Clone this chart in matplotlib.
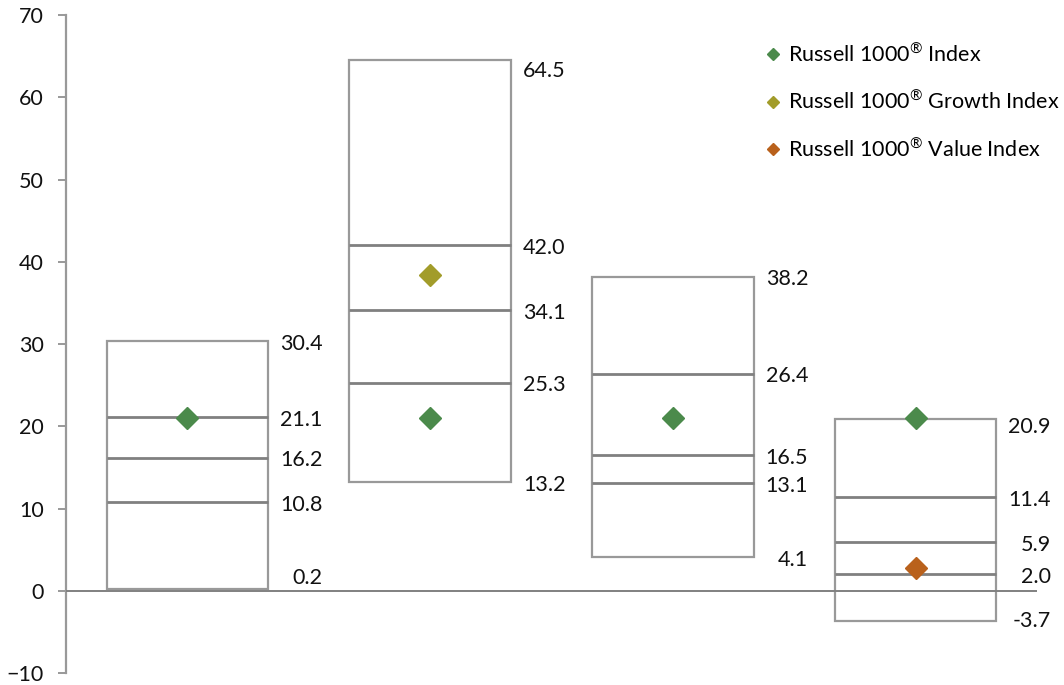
import matplotlib as mpl
import numpy as np
from matplotlib import pyplot as plt

mpl.rcParams['font.family'] = ['Lato', 'DejaVu Sans']
mpl.rcParams['font.size'] = 15.5
mpl.rcParams['mathtext.fontset'] = 'custom'
mpl.rcParams['mathtext.rm'] = 'Lato'

# Range of returns per group: low, 25th, median, 75th, high
lows = [0.2, 13.2, 4.1, -3.7]
q1 = [10.8, 25.3, 13.1, 2.0]
medians = [16.2, 34.1, 16.5, 5.9]
q3 = [21.1, 42.0, 26.4, 11.4]
highs = [30.4, 64.5, 38.2, 20.9]

# Index returns (None where the index is not shown in that group)
r1000 = [21.0, 21.0, 21.0, 21.0]
r1000_growth = [None, 38.4, None, None]
r1000_value = [None, None, None, 2.8]

reg = "$^{\\mathrm{\u00ae}}$"
series_labels = ["Russell 1000" + reg + " Index",
                 "Russell 1000" + reg + " Growth Index",
                 "Russell 1000" + reg + " Value Index"]
series_colors = ['#4b8a4b', '#a29c2a', '#b9611c']

box_color = '#999999'
line_color = '#808080'

fig = plt.figure(figsize=(10.64, 6.85), dpi=100)
ax = fig.add_axes([0.062, 0.0175, 0.9126, 0.9605])

x = np.arange(len(lows))
width = 0.665
heights = np.array(highs) - np.array(lows)
ax.bar(x, heights, bottom=lows, width=width, facecolor='white',
       edgecolor=box_color, linewidth=1.6, zorder=2)

for stat in (q1, medians, q3):
    ax.hlines(stat, x - width / 2, x + width / 2, color=line_color, linewidth=2, zorder=3)

ax.axhline(0, color=line_color, linewidth=1.4, zorder=4)

# value labels, right-aligned a little past each box
nudge = {(0, 0): 8, (1, 4): -8, (3, 4): -6, (3, 0): 0}
for i in range(len(lows)):
    vals = [lows[i], q1[i], medians[i], q3[i], highs[i]]
    for j, v in enumerate(vals):
        dy = nudge.get((i, j), -2)
        ax.annotate(f"{v:.1f}", xy=(x[i] + width / 2 + 0.225, v), xycoords='data',
                    xytext=(0, dy), textcoords='offset points', annotation_clip=False,
                    ha='right', va='center', color='#111111')

for vals, label, color in zip((r1000, r1000_growth, r1000_value), series_labels, series_colors):
    xs = [x[i] for i, v in enumerate(vals) if v is not None]
    ys = [v for v in vals if v is not None]
    ax.plot(xs, ys, linestyle='none', marker='D', markersize=11, color=color,
            label=label, zorder=5)

leg = ax.legend(loc='upper right', bbox_to_anchor=(1.043, 0.988), frameon=False,
                handletextpad=0.1, labelspacing=1.1, markerscale=0.6,
                handlelength=1.2)

ax.set_xlim(-0.5, 3.5)
ax.set_ylim(-10, 70)
ax.set_yticks(np.arange(-10, 71, 10))
ax.set_xticks([])

for side in ('top', 'right', 'bottom'):
    ax.spines[side].set_visible(False)
ax.spines['left'].set_color('#999999')
ax.spines['left'].set_linewidth(1.6)
ax.tick_params(axis='y', direction='out', length=6, width=1.4, color='#999999',
               labelcolor='#111111', pad=10)

fig.savefig('out.png', dpi=100)
